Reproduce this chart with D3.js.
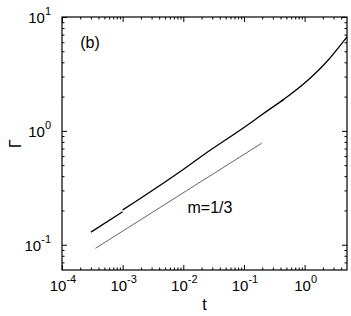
<!DOCTYPE html>
<html lang="en">
<head>
    <meta charset="UTF-8">
    <title>Gamma vs t</title>
    <style>
        body { margin: 0; background: #fff; }
        svg { display: block; font-family: 'Liberation Sans', Arial, sans-serif; }
        .axis path, .axis line { stroke: #000; }
    </style>
</head>
<body>
    <div id="chart"></div>
    <script src="https://d3js.org/d3.v7.min.js"></script>
    <script>
        // Curve pieces (simulation runs overlap slightly)
        const tA = [3.0e-4, 1.0e-3];
        const gA = [0.129, 0.195];
        const tB = [1.0e-3, 8.8e-3, 0.0214, 0.126, 0.184, 0.45];
        const gB = [0.202, 0.438, 0.614, 1.166, 1.35, 1.88];
        const tC = [0.40, 1.23, 2.31, 5.0];
        const gC = [1.80, 2.90, 4.05, 6.70];

        // reference slope line m = 1/3
        const tRef = [3.56e-4, 0.197];
        const gRef = [0.093, 0.78];

        const xMajor = [1e-4, 1e-3, 1e-2, 1e-1, 1e0];
        const xExp = ['-4', '-3', '-2', '-1', '0'];
        const yMajor = [1e-1, 1e0, 1e1];
        const yExp = ['-1', '0', '1'];

        const W = 351, H = 316;
        const mLeft = 62, mRight = 347, mTop = 17, mBottom = 270;

        const svg = d3.select('#chart').append('svg')
            .attr('width', W).attr('height', H);

        const x = d3.scaleLog().domain([1e-4, 5]).range([mLeft, mRight]);
        const y = d3.scaleLog().domain([0.06, 10]).range([mBottom, mTop]);

        function minors(lo, hi) {
            const out = [];
            for (let e = Math.floor(Math.log10(lo)); e <= Math.ceil(Math.log10(hi)); e++) {
                for (let k = 2; k <= 9; k++) {
                    const v = k * Math.pow(10, e);
                    if (v > lo && v < hi) out.push(v);
                }
            }
            return out;
        }
        const xMinor = minors(1e-4, 5);
        const yMinor = minors(0.06, 10);

        // axes with inward ticks on all four sides
        const axes = [
            [d3.axisBottom(x), `translate(0,${mBottom})`, xMajor, xMinor],
            [d3.axisTop(x), `translate(0,${mTop})`, xMajor, xMinor],
            [d3.axisLeft(y), `translate(${mLeft},0)`, yMajor, yMinor],
            [d3.axisRight(y), `translate(${mRight},0)`, yMajor, yMinor]
        ];
        axes.forEach(([ax, tr, major, minor]) => {
            svg.append('g').attr('class', 'axis').attr('transform', tr)
                .call(ax.tickValues(minor).tickSize(-2.5).tickSizeOuter(0).tickFormat(''))
                .call(g => g.select('.domain').remove());
            svg.append('g').attr('class', 'axis').attr('transform', tr)
                .call(ax.tickValues(major).tickSize(-5).tickSizeOuter(0).tickFormat(''))
                .call(g => g.select('.domain').remove());
        });
        svg.append('rect')
            .attr('x', mLeft).attr('y', mTop)
            .attr('width', mRight - mLeft).attr('height', mBottom - mTop)
            .attr('fill', 'none').attr('stroke', '#000').attr('stroke-width', 1.2);

        // tick labels
        xMajor.forEach((v, i) => {
            const t = svg.append('text')
                .attr('x', x(v) + 1).attr('y', 291)
                .attr('text-anchor', 'middle')
                .attr('font-size', 15);
            t.append('tspan').text('10');
            t.append('tspan').attr('dy', -8).attr('font-size', 11).text(xExp[i]);
        });
        yMajor.forEach((v, i) => {
            const t = svg.append('text')
                .attr('x', 51).attr('y', y(v) + 6)
                .attr('text-anchor', 'end')
                .attr('font-size', 15);
            t.append('tspan').text('10');
            t.append('tspan').attr('dy', -8).attr('font-size', 11).text(yExp[i]);
        });

        // axis titles
        svg.append('text')
            .attr('x', (mLeft + mRight) / 2).attr('y', 310)
            .attr('text-anchor', 'middle').attr('font-size', 16)
            .text('t');
        svg.append('text')
            .attr('transform', `translate(21,${(mTop + mBottom) / 2}) rotate(-90)`)
            .attr('text-anchor', 'middle').attr('font-size', 16)
            .text('Γ');

        const line = d3.line().x(d => x(d[0])).y(d => y(d[1]));

        svg.append('path')
            .datum(d3.zip(tRef, gRef))
            .attr('d', line)
            .attr('fill', 'none').attr('stroke', '#666').attr('stroke-width', 1);

        [[tA, gA], [tB, gB], [tC, gC]].forEach(([ts, gs]) => {
            svg.append('path')
                .datum(d3.zip(ts, gs))
                .attr('d', line.curve(d3.curveMonotoneX))
                .attr('fill', 'none').attr('stroke', '#000').attr('stroke-width', 1.3);
        });

        svg.append('text')
            .attr('x', 90).attr('y', 48)
            .attr('text-anchor', 'middle').attr('font-size', 16)
            .text('(b)');
        svg.append('text')
            .attr('x', 210).attr('y', 213)
            .attr('text-anchor', 'middle').attr('font-size', 16)
            .text('m=1/3');
    </script>
</body>
</html>
